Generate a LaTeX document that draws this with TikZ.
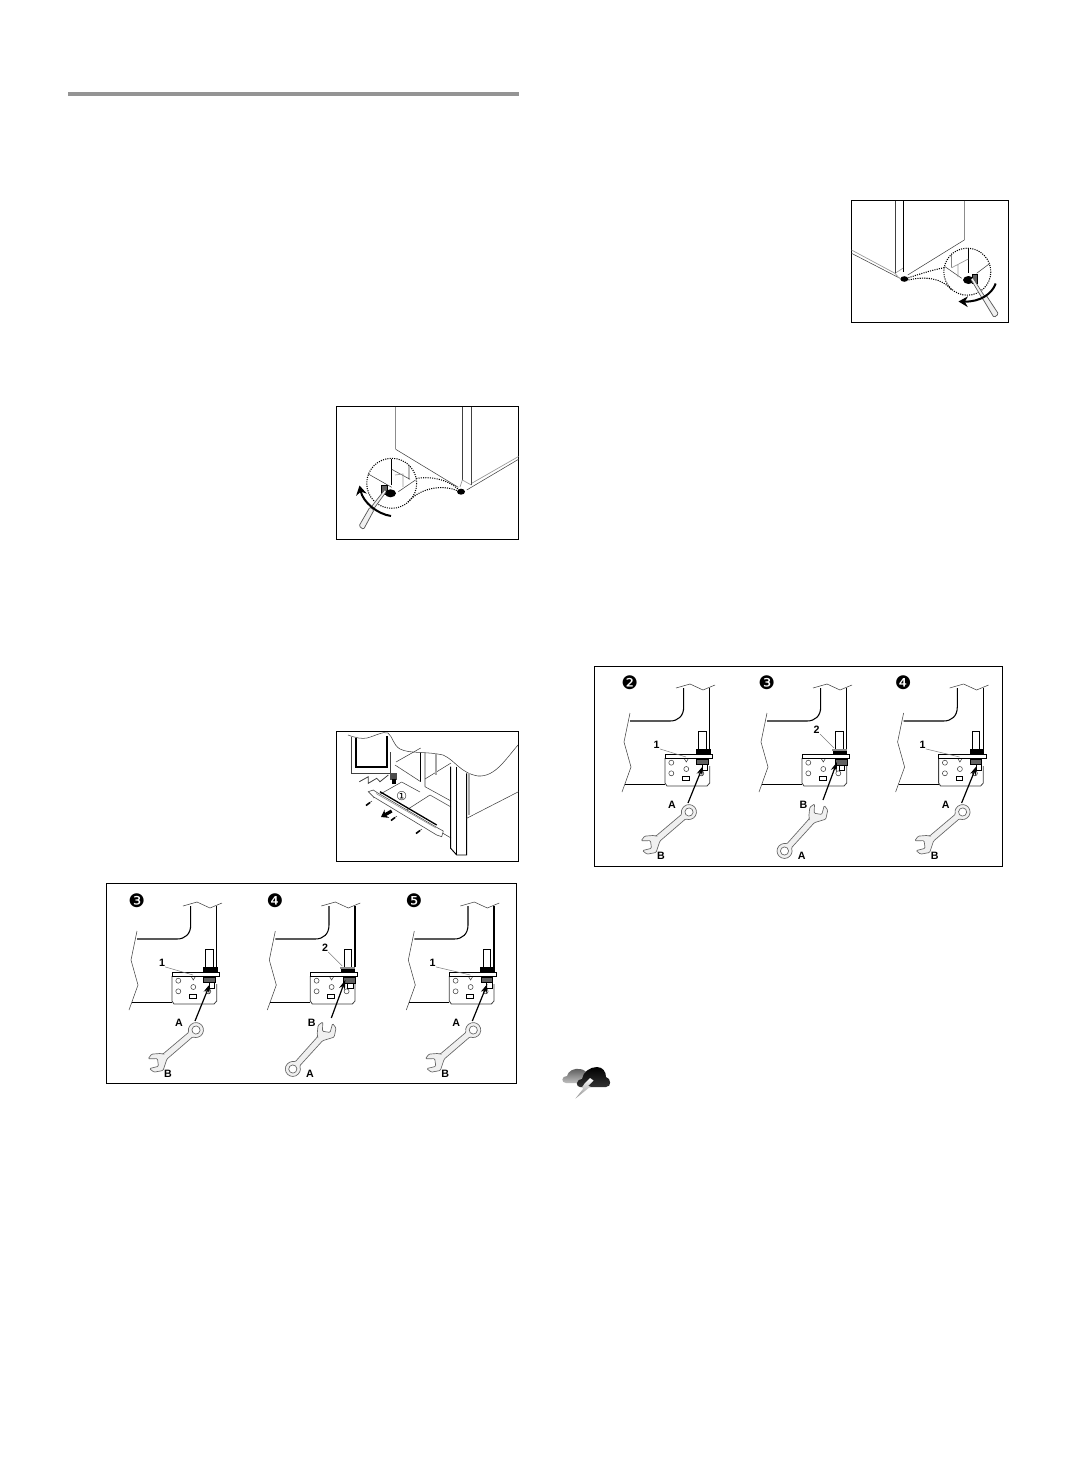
\documentclass[tikz,border=0pt]{standalone}
\usepackage{fontspec}
\setmainfont{Liberation Sans}
\newfontfamily\dingfont{DejaVu Sans}
\usepackage{tikz}
\usetikzlibrary{arrows.meta}

\tikzset{
  frameline/.style={draw=black, line width=0.7pt},
  heavyline/.style={draw=black, line width=0.8pt},
  thinline/.style={draw=black!75, line width=0.4pt},
  greyline/.style={draw=black!45, line width=0.8pt},
  dotline/.style={draw=black, line width=0.8pt, dash pattern=on 0.8pt off 0.9pt},
  leaderline/.style={draw=black!50, line width=0.4pt},
  pointerline/.style={draw=black, line width=0.9pt, -{Stealth[length=7pt, width=4.5pt]}},
  turnline/.style={draw=black, line width=1.5pt, -{Stealth[length=7pt, width=8pt]}},
  numbadge/.style={font=\dingfont\fontsize{14}{14}\selectfont, inner sep=0pt},
  partlabel/.style={font=\bfseries\fontsize{8}{9}\selectfont, inner sep=0pt},
  wrenchline/.style={draw=black!60, fill=black!6, line width=0.5pt, rounded corners=0.8pt},
  toolline/.style={draw=black!65, fill=black!6, line width=0.55pt},
  nuthatch/.style={draw=black, fill=black!62, line width=0.4pt}
}

% Open-end wrench: ring at #1, handle angle #2, jaw tilt #3
\newcommand{\wrenchpic}[3]{%
\begin{scope}[shift={(#1)}, rotate=#2]
\path[wrenchline] (6.8,3) arc [start angle=24, end angle=336, radius=7.45] -- (41,-3.2)
  -- ([shift={(50,0)}]{#3-115}:9.5) -- ([shift={(50,0)}]{#3-60}:10.5) -- ([shift={(50,0)}]{#3-28}:10.5)
  -- ([shift={(50,0)}]{#3-90}:3.9) -- ([shift={(50,0)}]{#3+90}:3.9)
  -- ([shift={(50,0)}]{#3+28}:10.5) -- ([shift={(50,0)}]{#3+60}:10.5) -- ([shift={(50,0)}]{#3+115}:9.5)
  -- (41,3.2) -- cycle;
\draw[draw=black!60, fill=white, line width=0.5pt] (0,0) circle [radius=4.1];
\end{scope}}

% Cabinet corner and hinge bracket, the same in every step
\newcommand{\hingebase}[2]{%
\node[numbadge] (num#2) at (136.7,901) {#1};
\draw[thinline] (183,906) -- (197,902) -- (210,908) -- (222,903);
\draw[thinline] (137,931) -- (131,960) -- (138,985) -- (129,1010);
\draw[heavyline] (190.7,906) -- (190.7,925) .. controls (190.7,934) and (185,939) .. (177,939) -- (137,939);
\draw[heavyline] (216.7,906) -- (216.7,967);
\draw[heavyline] (132,1002.3) -- (172,1002.3);
\draw[thinline, line width=0.6pt] (172,976) -- (172,1001) -- (174,1004) -- (214,1004) -- (216.7,1001) -- (216.7,984);
% Holes in the bracket
\draw[thinline] (178.3,980.7) circle [radius=2.5] (178.3,991.3) circle [radius=2.5] (193.3,987) circle [radius=2.5] (208.3,991.3) circle [radius=2.5];
\draw[thinline] (190.6,975.5) -- (193.3,980) -- (196,975.5);
\draw[draw=black, line width=0.5pt] (189.5,994.5) rectangle (196,998.5);
\draw[draw=black, line width=1pt] (189.5,994.5) -- (196,994.5);
% Pin and lower sleeve
\draw[draw=black, fill=white, line width=0.7pt] (205.7,949) rectangle (213.3,967);
\draw[draw=black, fill=white, line width=0.6pt] (209.5,982) rectangle (214.7,988.5);
}

% Step with nut 1 and the ring end on top
\newcommand{\hingeone}[5]{%
\begin{scope}[shift={(#1,#2)}]
\hingebase{#3}{#4}
\fill[black] (203,967) rectangle (217.5,972.3);
\draw[draw=black, fill=white, line width=0.7pt] (172,972.3) rectangle (219.5,976);
\path[nuthatch] (203.5,977) rectangle (215,982.5);
\node[partlabel] (one#4) at (#5,963) {1};
\coordinate (oneend#4) at (193,975);
\draw[leaderline] (one#4.south east) -- (oneend#4);
\wrenchpic{196,1030}{220.5}{33}
\coordinate (tail#4) at (195,1021);
\coordinate (tip#4) at (210,984);
\draw[pointerline] (tail#4) -- (tip#4);
\node[partlabel] (ringname#4) at (179,1023) {A};
\node[partlabel] (jawname#4) at (168,1074) {B};
\end{scope}}

% Step with nut 2 and the open end on top
\newcommand{\hingetwo}[4]{%
\begin{scope}[shift={(#1,#2)}]
\hingebase{#3}{#4}
\fill[black] (203,969) rectangle (217,972.3);
\fill[black!45] (202,967) rectangle (217,969);
\draw[draw=black, fill=white, line width=0.7pt] (172,972.3) rectangle (219.5,976);
\path[nuthatch] (205,977.5) rectangle (217,983);
\node[partlabel] (two#4) at (186.7,948) {2};
\coordinate (twoend#4) at (204,966);
\draw[leaderline] (two#4.south east) -- (twoend#4);
\wrenchpic{154.5,1069}{48}{-33}
\coordinate (tail#4) at (193,1018);
\coordinate (tip#4) at (207,980);
\draw[pointerline] (tail#4) -- (tip#4);
\node[partlabel] (jawname#4) at (173.4,1022.7) {B};
\node[partlabel] (ringname#4) at (171.7,1074) {A};
\end{scope}}

\begin{document}
\begin{tikzpicture}[x=0.75pt, y=-0.75pt]
\useasboundingbox (0,0) rectangle (1078,1474);
\fill[white] (0,0) rectangle (1078,1474);

% Heading rule
\fill[black!42] (68,92) rectangle (519,95.5);

% Foot panel, left column
\draw[frameline] (336.7,406.7) rectangle (518.5,539.5);
\draw[greyline] (395.7,406.7) -- (395.7,449.3);
\draw[thinline] (395.7,449.3) -- (458.3,487.3);
\draw[thinline, line width=0.6pt] (462.3,406.7) -- (462.3,480) (471.3,406.7) -- (471.3,485);
\draw[thinline] (466.7,490) -- (518.5,459.3);
\draw[draw=black!40, line width=0.5pt] (471.7,483.3) -- (518.5,456.5) (462.3,480) -- (471.3,485) (462.3,480) -- (460,487);
\fill[black] (461,491.7) ellipse [x radius=4, y radius=3];
\draw[dotline] (391.7,483.3) circle [radius=25];
\draw[dotline] (416.3,478.5) .. controls (430,476) and (447,479) .. (458,489);
\draw[dotline] (408,502) .. controls (418,490) and (440,483) .. (458,491);
\draw[heavyline] (391.7,459.3) -- (391.7,485);
\draw[thinline] (368.3,474) -- (391.7,487.3) (409,465) -- (409,479.3) (391.7,469.3) -- (410,479.3) (398.3,491.7) -- (415.5,480);
\draw[draw=black!40, line width=0.5pt] (395,475) -- (403,474) -- (403,487);
\path[nuthatch] (381.5,485) rectangle (387,494);
\fill[black] (390.5,493.3) ellipse [x radius=5.5, y radius=4];
\draw[toolline, line width=0.5pt] (386,492) -- (372.5,510.5) -- (370,508.5) -- (384.5,490);
\draw[toolline, rounded corners=1pt] (370,507) -- (374,510) -- (363.5,529.5) -- (359,526) -- cycle;
\draw[turnline] (391,516) .. controls (377,514) and (363,502) .. (359.5,485.5);

% Foot panel, right column
\draw[frameline] (851.5,200.7) rectangle (1008.5,322.5);
\draw[thinline] (851.5,253.3) -- (900,278.3);
\draw[draw=black!40, line width=0.5pt] (851.5,250) -- (895,273.3) (895,273.3) -- (903.3,268) (895,273.3) -- (899,278);
\draw[thinline, line width=0.6pt] (895,200.7) -- (895,273.3);
\draw[draw=black, line width=0.7pt] (903,200.7) -- (903,272);
\draw[greyline] (964.3,200.7) -- (964.3,240);
\draw[thinline] (964.3,240) -- (907.7,275);
\fill[black] (904.3,279) ellipse [x radius=4, y radius=2.8];
\draw[dotline] (967.3,271.7) circle [radius=23.5];
\draw[dotline] (944.3,267.7) .. controls (932,270) and (920,274) .. (908.5,277.7);
\draw[dotline] (908.5,280) .. controls (925,276) and (942,278) .. (951.7,290);
\draw[heavyline] (968.3,249) -- (968.3,273.3);
\draw[thinline] (951.7,253.3) -- (951.7,267.7) (945,266.7) -- (961.7,278.3) (990,263.3) -- (976.7,273.3);
\draw[draw=black!40, line width=0.5pt] (951.7,267.7) -- (968.3,259) (958,264) -- (958,277);
\fill[black] (968.5,280) ellipse [x radius=5.5, y radius=4];
\path[nuthatch] (972,274) rectangle (977,283);
\draw[toolline, line width=0.5pt] (973,278) -- (985,297) -- (982.5,299) -- (971,279.5);
\draw[toolline, rounded corners=1pt] (982,297.5) -- (986,295) -- (998.5,314) -- (994,317.5) -- cycle;
\draw[turnline] (995.7,283.5) .. controls (992,294) and (980,302) .. (958.5,301.5);

% Kick plate panel
\draw[frameline] (336.7,731) rectangle (518.5,861.7);
\draw[thinline] (348,735) .. controls (356,738) and (362,739) .. (367,738) .. controls (375,736) and (383,731) .. (388,733) .. controls (393,737) and (393,745) .. (400,749) .. controls (410,754) and (425,751) .. (443,755) .. controls (455,760) and (460,773) .. (478,776) .. controls (495,777) and (505,760) .. (518,745);
\draw[thinline, line width=0.6pt] (351.7,737) -- (351.7,773) -- (390,773) -- (390,752);
\draw[draw=black, line width=1.2pt] (356,737.5) -- (356,767) -- (386.7,767) -- (386.7,735.5);
\draw[thinline, line width=0.6pt] (359.3,781.7) -- (368.3,776.7) -- (368.3,783.3) -- (376.7,778.3) -- (380,781.7) -- (388.3,775);
\fill[black!70] (390,773) rectangle (397,780);
\fill[black] (392,779) rectangle (396,784);
\draw[heavyline] (420.7,753) -- (420.7,781.7);
\draw[thinline] (425,753) -- (425,786.7) (395,765) -- (420.7,781.7) (425,786.7) -- (451,801);
\draw[thinline] (396,762) -- (420.7,748) (425,779) -- (451,763);
\draw[draw=black!35, line width=0.8pt] (436,753) -- (436,775);
\draw[thinline] (401.7,782) -- (373.3,798) (401.7,782) -- (420,792) (430,795) -- (405,811) (405,811) -- (451,838) (430,795) -- (451,807);
\draw[draw=black, line width=0.7pt] (450.7,766.7) -- (450.7,848.3) -- (456.7,855) -- (466.7,855) -- (466.7,773.3);
\draw[draw=black, line width=0.7pt] (456.7,766.7) -- (456.7,855);
\draw[draw=black!35, line width=0.8pt] (469,773) -- (469,815);
\draw[thinline] (466.7,818.3) -- (518.5,791.7);
\draw[draw=black!70, fill=white, line width=0.45pt] (368.3,791.7) -- (373.3,790) -- (377,792.5) -- (438.3,828.3) -- (443.3,831) -- (441.7,836.7) -- (436.7,835) -- (373.3,796.7) -- cycle;
\draw[draw=black, line width=1pt] (380,791.7) -- (436.7,825);
\draw[draw=black!45, line width=0.4pt] (376,793.5) -- (436,828);
\draw[draw=black, line width=1.2pt] (366,805.5) -- (370,802.5);
\draw[draw=black, line width=1.2pt] (391,820.5) -- (395,817.5);
\draw[draw=black, line width=1.2pt] (416,833.5) -- (420,830.5);
\draw[thinline] (370,802.5) -- (372,801) (395,817.5) -- (397,816) (420,830.5) -- (422,829);
\draw[draw=black, line width=2.4pt, -{Stealth[length=5pt, width=7pt]}] (391.7,811) -- (381,817);
\node[font=\dingfont\fontsize{9}{9}\selectfont, inner sep=0pt] (platemark) at (401.7,795.7) {①};

% Hinge panel, left column
\draw[frameline] (106,883) rectangle (516,1083);
\hingeone{0}{0}{❸}{a}{162}
\hingetwo{138.3}{0}{❹}{b}
\hingeone{277.3}{0}{❺}{c}{155.4}

% Hinge panel, right column
\draw[frameline] (594,666) rectangle (1002,866);
\hingeone{493}{-218}{❷}{d}{163.7}
\hingetwo{630}{-218}{❸}{e}
\hingeone{766.6}{-218}{❹}{f}{156}

% Warning cloud
\shade[top color=black!65, bottom color=black!25] (566,1083) .. controls (561,1083) and (561,1076) .. (567,1076) .. controls (568,1071) and (574,1068) .. (580,1069) .. controls (584,1069.5) and (587,1072) .. (588,1075) -- (578,1083) -- cycle;
\shade[top color=black, bottom color=black!80] (580,1087) .. controls (576,1087) and (575,1080) .. (582,1079) .. controls (583,1072) and (590,1067) .. (597,1067) .. controls (603,1067) and (606,1072) .. (606,1077) .. controls (611,1078) and (612,1087) .. (606,1087) -- cycle;
\shade[top color=white, bottom color=black!45] (590,1078) -- (593.5,1080.5) -- (588,1086) -- (590.5,1086.5) -- (575.5,1098.5) -- (583.5,1088.3) -- (581.5,1088) -- (585,1083) -- cycle;
\end{tikzpicture}
\end{document}
